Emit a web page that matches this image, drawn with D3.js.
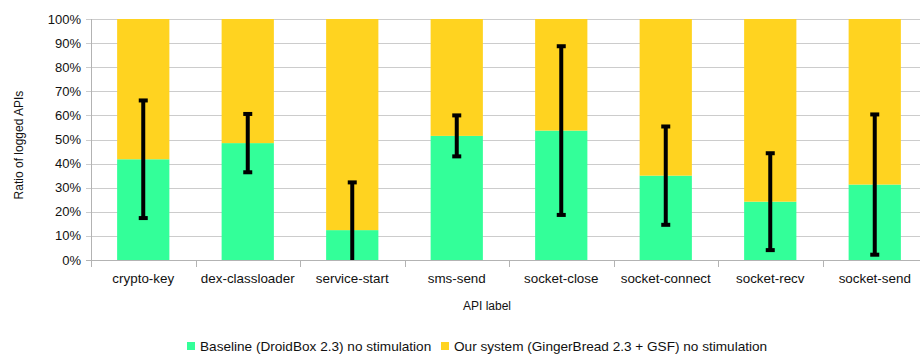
<!DOCTYPE html>
<html>
<head>
<meta charset="utf-8">
<script src="https://cdn.jsdelivr.net/npm/d3@7/dist/d3.min.js"></script>
<style>
  html, body { margin: 0; padding: 0; background: #fff; }
  svg { display: block; font-family: "Liberation Sans", Arial, sans-serif; }
</style>
</head>
<body>
<svg id="chart" width="920" height="354"></svg>
<script>
// API categories on the x axis
const categories = ["crypto-key", "dex-classloader", "service-start", "sms-send",
  "socket-close", "socket-connect", "socket-recv", "socket-send"];
// Baseline share (percent) of logged APIs per category
const baseline = [41.8, 48.5, 12.4, 51.5, 53.7, 35.0, 24.2, 31.3];
// Our system share (percent) — stacked on top of baseline to reach 100%
const oursystem = baseline.map(v => 100 - v);
// Symmetric error amount (percent) around the baseline value
const errors = [24.4, 12.1, 19.8, 8.5, 35.0, 20.4, 20.1, 29.1];
const yTicks = [0, 10, 20, 30, 40, 50, 60, 70, 80, 90, 100];
const seriesNames = ["Baseline (DroidBox 2.3) no stimulation",
  "Our system (GingerBread 2.3 + GSF) no stimulation"];
const colors = ["#33ff99", "#ffd320"];

const svg = d3.select("#chart");
const plotLeft = 91, plotRight = 927, plotTop = 19, plotBottom = 260;

const x = d3.scaleBand().domain(categories).range([plotLeft, plotRight])
  .paddingInner(0.5).paddingOuter(0.25);
const y = d3.scaleLinear().domain([0, 100]).range([plotBottom, plotTop]);

// clip region for the plot area
svg.append("defs").append("clipPath").attr("id", "plotClip")
  .append("rect").attr("x", plotLeft).attr("y", plotTop - 5)
  .attr("width", plotRight - plotLeft).attr("height", plotBottom - plotTop + 5);

// horizontal gridlines
svg.append("g").selectAll("line").data(yTicks).join("line")
  .attr("x1", plotLeft - 5).attr("x2", plotRight)
  .attr("y1", d => Math.round(y(d)) + 0.5).attr("y2", d => Math.round(y(d)) + 0.5)
  .attr("stroke", d => d === 0 ? "#b3b3b3" : "#cccccc").attr("stroke-width", 1);

// y tick labels
svg.append("g").selectAll("text").data(yTicks).join("text")
  .attr("x", 81).attr("y", d => y(d)).attr("dy", "0.35em")
  .attr("text-anchor", "end").attr("font-size", 13).attr("fill", "#111")
  .text(d => d + "%");

// stacked bars
const stackData = categories.map((c, i) => ({ cat: c, base: baseline[i], ours: oursystem[i] }));
const stack = d3.stack().keys(["base", "ours"])(stackData);
svg.append("g").selectAll("g").data(stack).join("g")
  .attr("fill", (d, i) => colors[i])
  .selectAll("rect").data(d => d).join("rect")
  .attr("x", d => x(d.data.cat))
  .attr("width", x.bandwidth())
  .attr("y", d => y(d[1]))
  .attr("height", d => y(d[0]) - y(d[1]));

// y axis line
svg.append("line").attr("x1", plotLeft + 0.5).attr("x2", plotLeft + 0.5)
  .attr("y1", plotTop).attr("y2", plotBottom).attr("stroke", "#b3b3b3");

// x axis ticks at category boundaries
const bounds = categories.map(c => x(c) - x.step() * x.paddingInner() / 2);
bounds.push(plotRight);
svg.append("g").selectAll("line").data(bounds).join("line")
  .attr("x1", d => Math.round(d) + 0.5).attr("x2", d => Math.round(d) + 0.5)
  .attr("y1", plotBottom).attr("y2", plotBottom + 7).attr("stroke", "#b3b3b3");

// category labels
svg.append("g").selectAll("text").data(categories).join("text")
  .attr("x", d => x(d) + x.bandwidth() / 2).attr("y", 278).attr("dy", "0.35em")
  .attr("text-anchor", "middle").attr("font-size", 13.4).attr("fill", "#111")
  .text(d => d);

// error bars
const eb = svg.append("g").attr("clip-path", "url(#plotClip)");
categories.forEach((c, i) => {
  const cx = x(c) + x.bandwidth() / 2;
  const hi = baseline[i] + errors[i], lo = baseline[i] - errors[i];
  eb.append("line").attr("x1", cx).attr("x2", cx)
    .attr("y1", y(hi)).attr("y2", y(lo)).attr("stroke", "#000").attr("stroke-width", 4);
  [hi, lo].forEach(v => {
    eb.append("rect").attr("x", cx - 4.5).attr("y", y(v) - 2)
      .attr("width", 9).attr("height", 4).attr("fill", "#000");
  });
});

// axis titles
svg.append("text").attr("x", 487).attr("y", 306).attr("dy", "0.35em")
  .attr("text-anchor", "middle").attr("font-size", 12).attr("fill", "#111")
  .text("API label");
svg.append("text").attr("transform", "translate(19,145) rotate(-90)")
  .attr("dy", "0.35em").attr("text-anchor", "middle")
  .attr("font-size", 12).attr("fill", "#111").text("Ratio of logged APIs");

// legend
const legend = svg.append("g");
const lgX = [187, 441];
seriesNames.forEach((name, i) => {
  legend.append("rect").attr("x", lgX[i]).attr("y", 342).attr("width", 8).attr("height", 8)
    .attr("fill", colors[i]);
  legend.append("text").attr("x", lgX[i] + 13).attr("y", 346).attr("dy", "0.35em")
    .attr("font-size", 13.6).attr("fill", "#111").text(name);
});
</script>
</body>
</html>
